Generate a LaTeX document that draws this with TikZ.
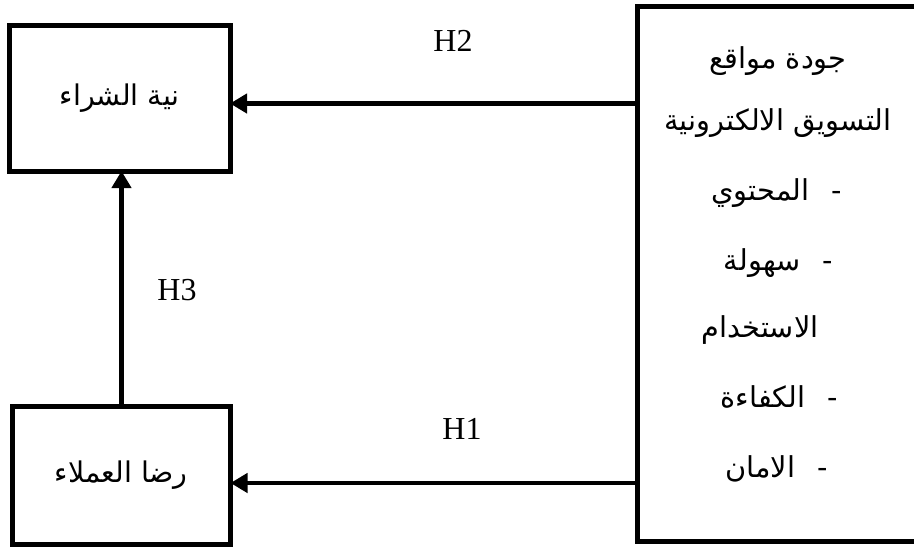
\documentclass[tikz,border=0pt]{standalone}
\usepackage{fontspec}
\usetikzlibrary{arrows.meta}
\TeXXeTstate=1
\newfontfamily\arabicfont[Script=Arabic]{DejaVu Sans}
\setmainfont{Liberation Serif}
\begin{document}
\begin{tikzpicture}[x=1pt,y=-1pt,
  box/.style={draw,line width=5pt,inner sep=0pt,outer sep=0pt,font=\arabicfont\fontsize{28.5}{32}\selectfont},
  arr/.style={line width=4.5pt,-{Triangle[length=17pt,width=19pt]}},
  ar/.style={inner sep=0pt,font=\arabicfont\fontsize{28.8}{32}\selectfont},
  hl/.style={inner sep=0pt,font=\fontsize{32}{36}\selectfont}]
\useasboundingbox (0,0) rectangle (914,550);
\clip (0,0) rectangle (914,550);
\node[box,minimum width=220.5pt,minimum height=146pt] (purchase) at (119.75,98) {\beginR نية الشراء\endR};
\node[box,minimum width=218.5pt,minimum height=138pt] (satisfaction) at (121.25,475) {\beginR رضا العملاء\endR};
\node[box,minimum width=300pt,minimum height=534.5pt] (quality) at (787.5,273.75) {};
\node[ar,anchor=base] (l1) at (778,68) {\beginR جودة مواقع\endR};
\node[ar,anchor=base] (l2) at (778,130) {\beginR التسويق الالكترونية\endR};
\node[ar,anchor=base east] (l3) at (842,200) {\beginR -\hspace{22pt}المحتوي\endR};
\node[ar,anchor=base east] (l4) at (833,270) {\beginR -\hspace{22pt}سهولة\endR};
\node[ar,anchor=base] (l5) at (760,337) {\beginR الاستخدام\endR};
\node[ar,anchor=base east] (l6) at (838,407) {\beginR -\hspace{22pt}الكفاءة\endR};
\node[ar,anchor=base east] (l7) at (828,477) {\beginR -\hspace{22pt}الامان\endR};
\coordinate (h2y) at (0,103.5);
\coordinate (h1y) at (0,483);
\coordinate (h3x) at (121.5,0);
\draw[arr] (quality.west |- h2y) -- (purchase.east |- h2y);
\draw[arr] (quality.west |- h1y) -- (satisfaction.east |- h1y);
\draw[arr] (h3x |- satisfaction.north) -- (h3x |- purchase.south);
\node[hl] (h2) at (453,41) {H2};
\node[hl] (h1) at (462,429) {H1};
\node[hl] (h3) at (177,290) {H3};
\end{tikzpicture}
\end{document}
